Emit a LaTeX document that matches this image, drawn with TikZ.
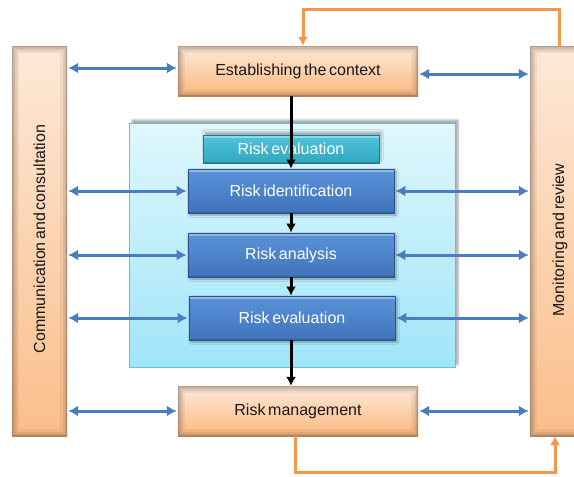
\documentclass[tikz,border=0pt]{standalone}
\usepackage{fontspec}
\setmainfont[WordSpace=0.6]{Liberation Sans}
\usetikzlibrary{arrows.meta,shadows.blur}

\definecolor{peachtop}{HTML}{FDE9D8}
\definecolor{peachbot}{HTML}{FBBE8A}
\definecolor{peachedge}{HTML}{5A4030}
\definecolor{bluetop}{HTML}{5A92D8}
\definecolor{bluebot}{HTML}{3F74BA}
\definecolor{blueedge}{HTML}{2A5288}
\definecolor{tealtop}{HTML}{4FC6DC}
\definecolor{tealbot}{HTML}{2FA7BE}
\definecolor{tealedge}{HTML}{1E7A8C}
\definecolor{paneltop}{HTML}{E0F7FD}
\definecolor{panelbot}{HTML}{A0E5F9}
\definecolor{paneledge}{HTML}{66C0D6}
\definecolor{linkblue}{HTML}{4A7CC0}
\definecolor{loop}{HTML}{F5984B}

\tikzset{
  softedge/.style={path picture={
    \foreach \w/\o in {14/0.08, 9/0.10, 5/0.14, 2/0.22}
      \draw[line width=\w pt, draw=#1, draw opacity=\o]
        (path picture bounding box.south west) rectangle
        (path picture bounding box.north east);}},
  bevel/.style={path picture={
    \draw[line width=2.5pt, white, draw opacity=0.35]
      ([yshift=-2pt]path picture bounding box.north west) --
      ([yshift=-2pt]path picture bounding box.north east);
    \draw[line width=2pt, black, draw opacity=0.18]
      (path picture bounding box.south west) --
      (path picture bounding box.south east);}},
  sidebar/.style={rectangle, inner sep=0pt, top color=peachtop,
    bottom color=peachbot, softedge=peachedge},
  stagebox/.style={rectangle, inner sep=0pt, top color=peachtop,
    bottom color=peachbot!92!orange, softedge=peachedge,
    font=\fontsize{16}{18}\selectfont, text=black!90},
  processbox/.style={rectangle, inner sep=0pt, top color=bluetop,
    bottom color=bluebot, draw=blueedge, line width=0.8pt, bevel,
    font=\fontsize{16}{18}\selectfont, text=white,
    blur shadow={shadow xshift=2pt, shadow yshift=-2pt,
      shadow blur steps=6, shadow opacity=35}},
  tealbox/.style={rectangle, inner sep=0pt, top color=tealtop,
    bottom color=tealbot, draw=tealedge, line width=0.6pt, bevel,
    font=\fontsize{16}{18}\selectfont, text=white,
    blur shadow={shadow xshift=2pt, shadow yshift=3pt,
      shadow blur steps=6, shadow opacity=30}},
  panel/.style={rectangle, inner sep=0pt, top color=paneltop,
    bottom color=panelbot, draw=paneledge, line width=0.8pt,
    blur shadow={shadow xshift=3pt, shadow yshift=3pt,
      shadow blur steps=6, shadow opacity=35}},
  barlabel/.style={rotate=90, inner sep=0pt,
    font=\fontsize{16}{18}\selectfont, text=black!90},
  biarrow/.style={draw=linkblue, line width=3pt,
    {Latex[length=10pt,width=11pt]}-{Latex[length=10pt,width=11pt]},
    shorten <=1pt, shorten >=1pt},
  flow/.style={draw=black, line width=3pt,
    -{Latex[length=9pt,width=10pt]}},
  feedback/.style={draw=loop, line width=3pt,
    -{Latex[length=9pt,width=10pt]}}
}

\begin{document}
\begin{tikzpicture}[x=1pt, y=-1pt]
\useasboundingbox (0,0) rectangle (574,477);

% side bars
\node[sidebar, minimum width=55pt, minimum height=390pt] (cc) at (39.5,241) {};
\node[barlabel] (cctext) at (39.5,239) {Communication and consultation};
\node[sidebar, minimum width=56pt, minimum height=390pt] (mr) at (558,241) {};
\node[barlabel] (mrtext) at (560,240) {Monitoring and review};

% outer stages
\node[stagebox, minimum width=240pt, minimum height=50pt] (ec) at (298,71) {Establishing the context};
\node[stagebox, minimum width=240pt, minimum height=50pt] (rm) at (298,411) {Risk management};

% assessment panel
\node[panel, minimum width=326pt, minimum height=244pt] (pn) at (292,245) {};
\node[tealbox, minimum width=176pt, minimum height=28pt] (te) at (291,149) {Risk evaluation};
\node[processbox, minimum width=206pt, minimum height=44pt] (ri) at (291,191) {Risk identification};
\node[processbox, minimum width=206pt, minimum height=44pt] (ra) at (291,255) {Risk analysis};
\node[processbox, minimum width=206pt, minimum height=44pt] (rv) at (292,318) {Risk evaluation};

% main flow
\draw[flow] (ri.north |- ec.south) -- (ri.north);
\draw[flow] (ri.south) -- (ra.north);
\draw[flow] (ra.south) -- (ra.south |- rv.north);
\draw[flow] (ra.south |- rv.south) -- (ra.south |- rm.north);

% communication links
\draw[biarrow] (cc.east |- 0,68) -- (ec.west |- 0,68);
\draw[biarrow] (cc.east |- 0,191) -- (ri.west |- 0,191);
\draw[biarrow] (cc.east |- 0,255) -- (ra.west |- 0,255);
\draw[biarrow] (cc.east |- 0,318) -- (rv.west |- 0,318);
\draw[biarrow] (cc.east |- 0,411) -- (rm.west |- 0,411);

% monitoring links
\draw[biarrow] (ec.east |- 0,74) -- (mr.west |- 0,74);
\draw[biarrow] (ri.east |- 0,191) -- (mr.west |- 0,191);
\draw[biarrow] (ra.east |- 0,255) -- (mr.west |- 0,255);
\draw[biarrow] (rv.east |- 0,318) -- (mr.west |- 0,318);
\draw[biarrow] (rm.east |- 0,411) -- (mr.west |- 0,411);

% feedback loops
\coordinate (tr) at (559,9);
\coordinate (tl) at (303,9);
\draw[feedback] (mr.north -| tr) -- (tr) -- (tl) -- (tl |- ec.north);
\coordinate (bl) at (295,472);
\coordinate (br) at (555,472);
\draw[feedback] (rm.south -| bl) -- (bl) -- (br) -- (br |- mr.south);
\end{tikzpicture}
\end{document}
